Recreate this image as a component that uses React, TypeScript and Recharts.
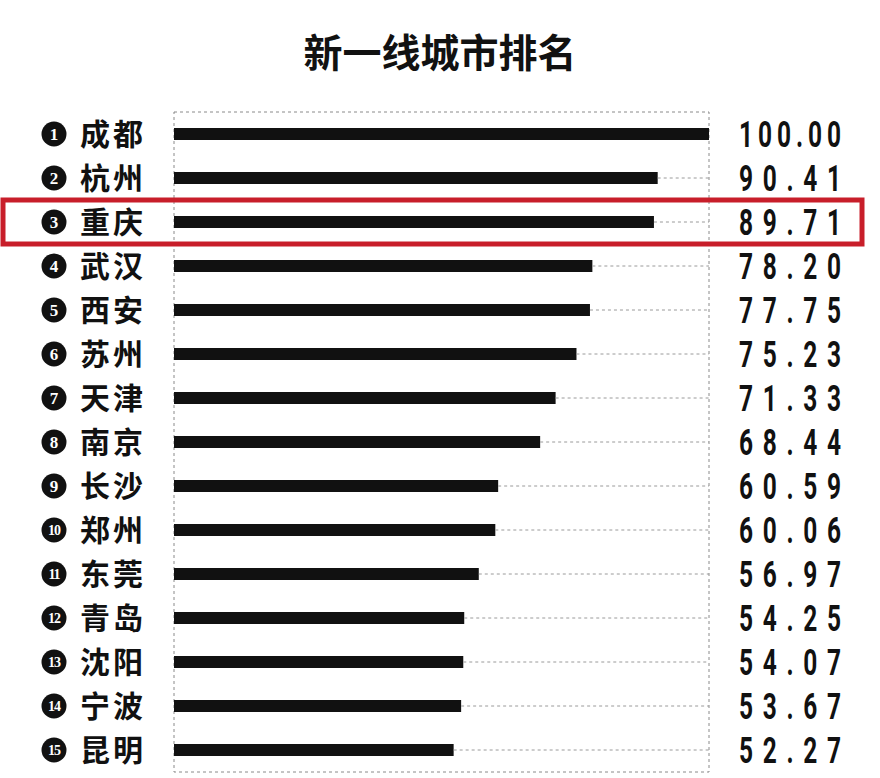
import React from "react";
import { BarChart, Bar, XAxis, YAxis, ReferenceArea } from "recharts";

const cities = ["成都", "杭州", "重庆", "武汉", "西安", "苏州", "天津", "南京", "长沙", "郑州", "东莞", "青岛", "沈阳", "宁波", "昆明"];
const scores = [100.0, 90.41, 89.71, 78.2, 77.75, 75.23, 71.33, 68.44, 60.59, 60.06, 56.97, 54.25, 54.07, 53.67, 52.27];
const ranks = [1, 2, 3, 4, 5, 6, 7, 8, 9, 10, 11, 12, 13, 14, 15];
const maxScore = 100;
const highlightCity = "重庆";
const title = "新一线城市排名";

const data = cities.map((c, i) => ({
  city: c,
  rank: ranks[i],
  value: scores[i],
  rest: maxScore - scores[i],
}));

const CJK = "'Noto Sans CJK SC', 'Noto Sans', sans-serif";
const NUM = "Roboto, 'DejaVu Sans', sans-serif";

const LeftTick = (props: any) => {
  const { x, y, payload } = props;
  const d = data.find((r) => r.city === payload.value);
  const rank = d ? d.rank : 0;
  return (
    <g>
      <circle cx={x - 120} cy={y} r={12.5} fill="#111" />
      <text
        x={x - 120}
        y={y}
        dy="0.36em"
        textAnchor="middle"
        fill="#fff"
        fontFamily="'Liberation Serif', 'DejaVu Serif', serif"
        fontWeight={700}
        fontSize={rank >= 10 ? 14 : 17}
        letterSpacing={rank >= 10 ? -1 : 0}
      >
        {rank}
      </text>
      <text
        x={x - 94}
        y={y}
        dy="0.36em"
        fill="#111"
        fontFamily={CJK}
        fontWeight={700}
        fontSize={30}
        textLength={63}
        lengthAdjust="spacing"
      >
        {payload.value}
      </text>
    </g>
  );
};

const SQUEEZE = 0.68;

const RightTick = (props: any) => {
  const { x, y, payload } = props;
  const d = data.find((r) => r.city === payload.value);
  const label = d ? d.value.toFixed(2) : "";
  return (
    <g transform={`translate(${x + 30},${y}) scale(${SQUEEZE},1)`}>
      <text
        x={0}
        y={0}
        dy="0.36em"
        fill="#111"
        fontFamily={NUM}
        fontWeight={700}
        fontSize={36}
        textLength={102 / SQUEEZE}
        lengthAdjust="spacing"
      >
        {label}
      </text>
    </g>
  );
};

const RestShape = (props: any) => {
  const { x, y, width, height } = props;
  if (!width || width <= 0.5) return null;
  const cy = y + height / 2;
  return <line x1={x} y1={cy} x2={x + width} y2={cy} stroke="#9a9a9a" strokeWidth={1} strokeDasharray="3 3" />;
};

const HighlightShape = (props: any) => {
  const { x, y, width, height } = props;
  return (
    <rect
      x={x - 171}
      y={y}
      width={width + 171 + 153}
      height={height}
      fill="none"
      stroke="#c81e2a"
      strokeWidth={5}
    />
  );
};

export default function App() {
  return (
    <div style={{ position: "absolute", left: 0, top: 0, width: 880, height: 778, background: "#fff" }}>
      <div
        style={{
          position: "absolute",
          left: 0,
          top: 22,
          width: 880,
          textAlign: "center",
          fontFamily: CJK,
          fontWeight: 700,
          fontSize: 39,
          color: "#111",
          lineHeight: "56px",
        }}
      >
        {title}
      </div>
      <BarChart
        width={880}
        height={778}
        data={data}
        layout="vertical"
        margin={{ top: 112, right: 0, bottom: 6, left: 0 }}
        barCategoryGap={0}
      >
        <XAxis type="number" domain={[0, maxScore]} hide />
        <YAxis
          yAxisId="left"
          type="category"
          dataKey="city"
          width={174}
          axisLine={false}
          tickLine={false}
          tickSize={0}
          tickMargin={0}
          tick={<LeftTick />}
          interval={0}
        />
        <YAxis
          yAxisId="right"
          orientation="right"
          type="category"
          dataKey="city"
          width={171}
          axisLine={false}
          tickLine={false}
          tickSize={0}
          tickMargin={0}
          tick={<RightTick />}
          interval={0}
        />
        <ReferenceArea
          yAxisId="left"
          x1={0}
          x2={maxScore}
          fill="none"
          stroke="#8a8a8a"
          strokeWidth={1}
          strokeDasharray="3 3"
          ifOverflow="visible"
        />
        <Bar yAxisId="left" dataKey="value" stackId="a" fill="#111" barSize={12} isAnimationActive={false} />
        <Bar yAxisId="left" dataKey="rest" stackId="a" barSize={12} shape={<RestShape />} isAnimationActive={false} />
        <ReferenceArea
          yAxisId="left"
          y1={highlightCity}
          y2={highlightCity}
          x1={0}
          x2={maxScore}
          shape={<HighlightShape />}
          ifOverflow="visible"
        />
      </BarChart>
    </div>
  );
}
